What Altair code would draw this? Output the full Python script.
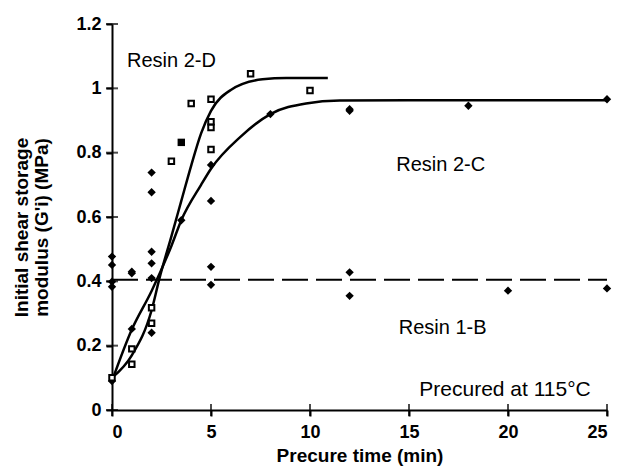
import altair as alt
import pandas as pd

# ---- data ----
# Resin 2-D (open squares)
t_2d = [0, 1, 1, 2, 2, 3, 4, 5, 5, 5, 5, 7, 10]
g_2d = [0.10, 0.19, 0.142, 0.318, 0.27, 0.773, 0.953, 0.966, 0.896, 0.878, 0.81, 1.045, 0.993]
# filled square point of Resin 2-D
t_2d_f = [3.5]
g_2d_f = [0.832]
# Resin 2-C (filled diamonds)
t_2c = [0, 1, 2, 2, 2, 2, 2, 3.5, 5, 5, 8, 12, 12, 18, 25]
g_2c = [0.09, 0.252, 0.738, 0.677, 0.492, 0.456, 0.24, 0.59, 0.762, 0.65, 0.92, 0.935, 0.93, 0.946, 0.966]
# Resin 1-B (filled diamonds)
t_1b = [0, 0, 0, 0, 1, 1, 2, 5, 5, 12, 12, 20, 25]
g_1b = [0.477, 0.451, 0.399, 0.383, 0.425, 0.43, 0.41, 0.445, 0.389, 0.428, 0.355, 0.371, 0.378]

# fitted curves
cx_2d = [0, 1, 2, 2.4, 3.0, 3.5, 4.0, 4.5, 5, 6, 7.6, 8.8, 10.9]
cy_2d = [0.10, 0.17, 0.31, 0.41, 0.54, 0.65, 0.76, 0.86, 0.93, 0.995, 1.028, 1.032, 1.032]
cx_2c = [0, 1, 2, 3, 3.5, 4.5, 5, 6.5, 8, 9.8, 11.5, 15, 20, 25]
cy_2c = [0.09, 0.25, 0.37, 0.51, 0.59, 0.70, 0.75, 0.85, 0.92, 0.953, 0.962, 0.963, 0.963, 0.963]
# Resin 1-B average (dashed)
cx_1b = [0, 25]
cy_1b = [0.405, 0.405]

x_ticks = [0, 5, 10, 15, 20, 25]
y_ticks = [0, 0.2, 0.4, 0.6, 0.8, 1.0, 1.2]

labels = ["Resin 2-D", "Resin 2-C", "Resin 1-B", "Precured at 115\u00b0C"]
label_x = [3.0, 16.6, 16.7, 19.85]
label_y = [1.085, 0.762, 0.255, 0.062]
label_size = [20, 20, 20, 21]

FONT = "Liberation Sans"

xs = alt.Scale(domain=[0, 25], nice=False, zero=False)
ys = alt.Scale(domain=[0, 1.2], nice=False, zero=False)

xax = alt.Axis(values=x_ticks, title="Precure time (min)", grid=False,
               labelFontSize=18, labelFontWeight="bold", labelFont=FONT, labelColor="black",
               titleFontSize=19, titleFontWeight="bold", titleFont=FONT, titleColor="black",
               domainColor="black", domainWidth=2, tickColor="black", tickWidth=2, tickSize=6,
               labelPadding=7, titleY=45, titleBaseline="middle")
yax = alt.Axis(values=y_ticks, format="~g",
               title=["Initial shear storage", "modulus (G'i) (MPa)"], grid=False,
               labelFontSize=18, labelFontWeight="bold", labelFont=FONT, labelColor="black",
               titleFontSize=19, titleFontWeight="bold", titleFont=FONT, titleColor="black",
               titleLineHeight=20,
               domainColor="black", domainWidth=2, tickColor="black", tickWidth=2, tickSize=6,
               labelPadding=5, titleX=-81, titleY=203, titleAngle=270, titleBaseline="bottom",
               titleAlign="center")

def df(x, y, name):
    return pd.DataFrame({"t": x, "g": y, "s": [name] * len(x)})

curves = pd.concat([df(cx_2d, cy_2d, "2-D"), df(cx_2c, cy_2c, "2-C")])

base_x = alt.X("t:Q", scale=xs, axis=xax)
base_y = alt.Y("g:Q", scale=ys, axis=yax)

curve_layer = alt.Chart(curves).mark_line(color="black", strokeWidth=2.5, interpolate="monotone").encode(
    x=base_x, y=base_y, detail="s:N")

dash_layer = alt.Chart(df(cx_1b, cy_1b, "1-B")).mark_line(
    color="black", strokeWidth=2, strokeDash=[26, 8]).encode(x="t:Q", y="g:Q")

diam = pd.concat([df(t_2c, g_2c, "2-C"), df(t_1b, g_1b, "1-B")])
diam_layer = alt.Chart(diam).mark_point(shape="diamond", filled=True, color="black",
                                        size=70, opacity=1).encode(x="t:Q", y="g:Q")

sq_layer = alt.Chart(df(t_2d, g_2d, "2-D")).mark_point(shape="square", filled=True, fill="white",
                                                      stroke="black", strokeWidth=2, size=30,
                                                      opacity=1).encode(x="t:Q", y="g:Q")
sqf_layer = alt.Chart(df(t_2d_f, g_2d_f, "2-D")).mark_point(shape="square", filled=True, color="black",
                                                           size=55, opacity=1).encode(x="t:Q", y="g:Q")

lab = pd.DataFrame({"t": label_x, "g": label_y, "txt": labels, "fs": label_size})
text_layer = alt.Chart(lab).mark_text(font=FONT, color="black",
                                      align="center", baseline="middle").encode(
    x="t:Q", y="g:Q", text="txt:N", size=alt.Size("fs:Q", scale=None, legend=None))

# cross ticks on the axes (inner half of each tick)
xt = pd.DataFrame({"t": x_ticks, "g": [0] * len(x_ticks)})
yt = pd.DataFrame({"t": [0] * len(y_ticks), "g": y_ticks})
xtick_layer = alt.Chart(xt).mark_tick(orient="vertical", color="black", thickness=2, size=12).encode(
    x="t:Q", y="g:Q")
ytick_layer = alt.Chart(yt).mark_tick(orient="horizontal", color="black", thickness=2, size=12).encode(
    x="t:Q", y="g:Q")

chart = alt.layer(curve_layer, dash_layer, diam_layer, sq_layer, sqf_layer, text_layer,
                  xtick_layer, ytick_layer).properties(
    width=495, height=386,
    autosize=alt.AutoSizeParams(type="none"),
    padding={"left": 104, "top": 16, "right": 5, "bottom": 57},
    background="white",
).configure_view(stroke=None)

chart.save("out.html", embed_options={"renderer": "svg", "actions": False})
